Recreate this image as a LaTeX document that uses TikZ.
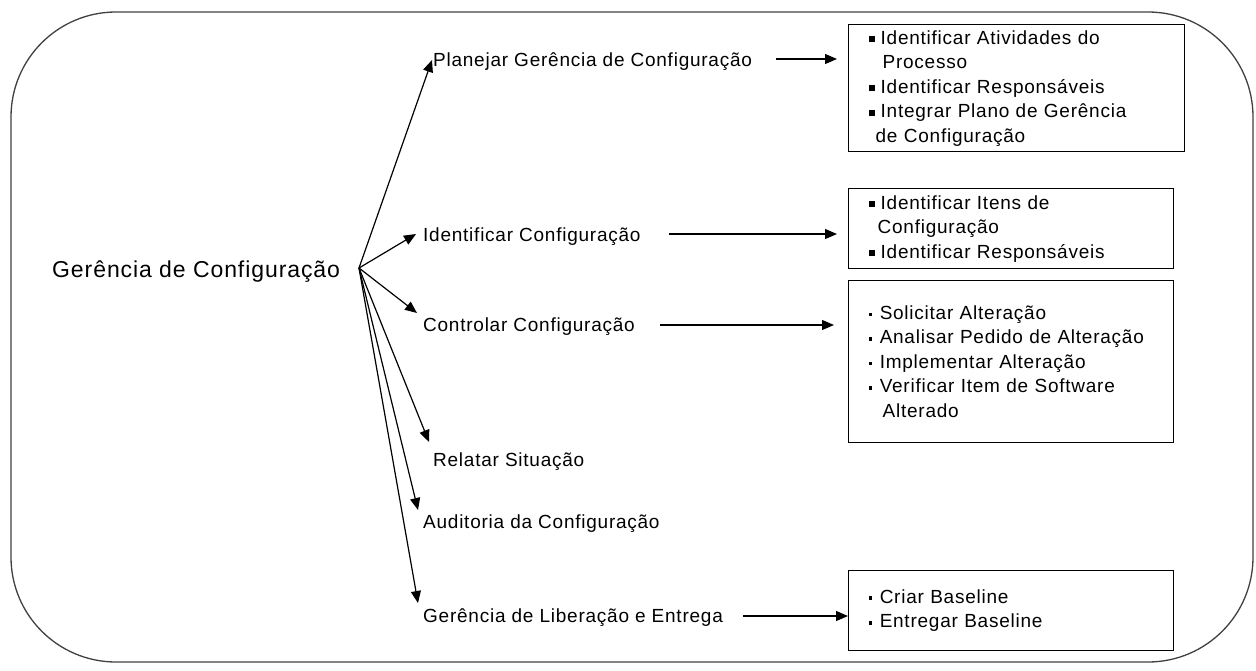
\documentclass[tikz,border=0pt]{standalone}
\usepackage{fontspec}
\setmainfont{Liberation Sans}
\newfontfamily\lblfont[LetterSpace=4]{Liberation Sans}
\usetikzlibrary{arrows.meta}
\newcommand{\bigbul}{\rule[2pt]{6pt}{6pt}\hspace{6pt}}
\newcommand{\smlbul}{\rule[3.3pt]{3.6pt}{3.6pt}\hspace{7.5pt}}
\begin{document}
\begin{tikzpicture}[x=1pt,y=-1pt,
  rootlbl/.style={inner sep=0pt, anchor=base west, font=\lblfont\fontsize{23}{28}\selectfont},
  lbl/.style={inner sep=0pt, anchor=base west, font=\lblfont\fontsize{19}{24}\selectfont},
  listbox/.style={draw=black, line width=1.3pt, anchor=north west, inner xsep=20pt, inner ysep=0pt, align=left, font=\lblfont\fontsize{19}{24.5}\selectfont},
  arr/.style={line width=1.2pt, -{Triangle[length=12pt,width=10pt]}},
  outerframe/.style={draw=black!75, line width=1.3pt, rounded corners=105pt}]
\useasboundingbox (0,0) rectangle (1256,670);
\draw[outerframe] (11,12) rectangle (1253,662);

% labels
\node[rootlbl] (root) at (52,277) {Gerência de Configuração};
\node[lbl] (plan) at (433,66) {Planejar Gerência de Configuração};
\node[lbl] (ident) at (423,241) {Identificar Configuração};
\node[lbl] (ctrl) at (423,331) {Controlar Configuração};
\node[lbl] (rel) at (433,466) {Relatar Situação};
\node[lbl] (aud) at (423,528) {Auditoria da Configuração};
\node[lbl] (lib) at (423,622) {Gerência de Liberação e Entrega};

% boxes
\node[listbox, text width=296pt, minimum height=127pt] (b1) at (848,24) {%
\bigbul Identificar Atividades do\\
\hspace*{14pt}Processo\\
\bigbul Identificar Responsáveis\\
\bigbul Integrar Plano de Gerência\\
\hspace*{7pt}de Configuração};
\node[listbox, text width=285pt, minimum height=80pt] (b2) at (848,188) {%
\bigbul Identificar Itens de\\
\hspace*{9pt}Configuração\\
\bigbul Identificar Responsáveis};
\node[listbox, text width=285pt, minimum height=162pt] (b3) at (848,280) {%
\smlbul Solicitar Alteração\\
\smlbul Analisar Pedido de Alteração\\
\smlbul Implementar Alteração\\
\smlbul Verificar Item de Software\\
\hspace*{14pt}Alterado};
\node[listbox, text width=285pt, minimum height=80pt] (b4) at (848,570) {%
\smlbul Criar Baseline\\
\smlbul Entregar Baseline};

% hub and arrow ends
\coordinate (hub) at (359,268);
\coordinate (t1) at (432,60);
\coordinate (t2) at (416,234);
\coordinate (t3) at (417,313);
\coordinate (t4) at (429,442);
\coordinate (t5) at (418,510);
\coordinate (t6) at (418,603);
\draw[arr] (hub) -- (t1);
\draw[arr] (hub) -- (t2);
\draw[arr] (hub) -- (t3);
\draw[arr] (hub) -- (t4);
\draw[arr] (hub) -- (t5);
\draw[arr] (hub) -- (t6);

\coordinate (h1s) at (776,59);
\coordinate (h1e) at (837,59);
\coordinate (h2s) at (669,234);
\coordinate (h2e) at (837,234);
\coordinate (h3s) at (660,325);
\coordinate (h3e) at (834,325);
\coordinate (h4s) at (743,616);
\coordinate (h4e) at (848,616);
\draw[arr] (h1s) -- (h1e);
\draw[arr] (h2s) -- (h2e);
\draw[arr] (h3s) -- (h3e);
\draw[arr] (h4s) -- (h4e);
\end{tikzpicture}
\end{document}
